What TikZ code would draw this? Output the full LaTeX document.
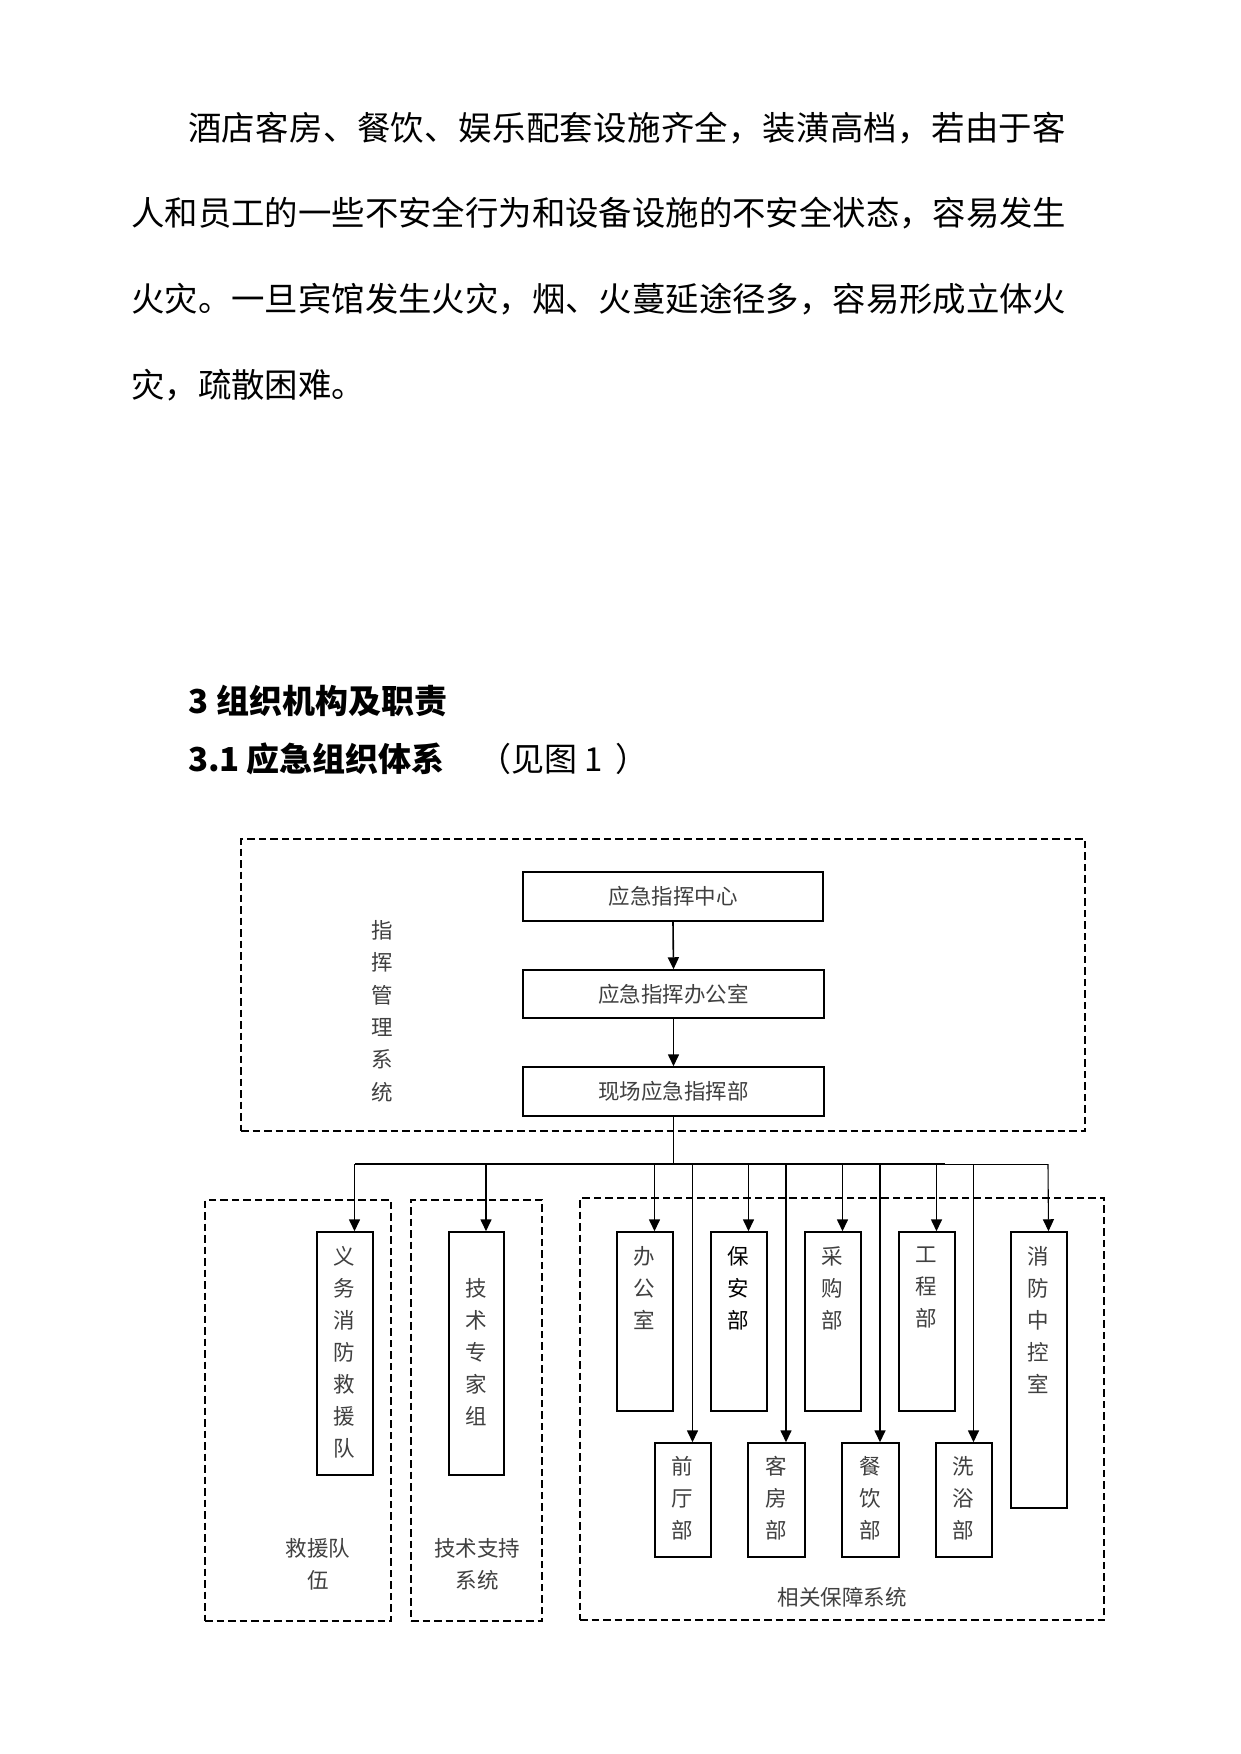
\documentclass[tikz,border=0pt]{standalone}
\usepackage{fontspec}
\setmainfont{Noto Sans CJK SC}
\usetikzlibrary{arrows.meta}
\def\spr#1{\ifx\relax#1\else#1\hfil\expandafter\spr\fi}
\begin{document}
\begin{tikzpicture}[x=1pt,y=-1pt,
  para/.style={anchor=base west, inner sep=0pt, font=\fontsize{33.4}{40}\selectfont},
  head/.style={anchor=base west, inner sep=0pt, font=\fontsize{33}{40}\selectfont\bfseries},
  headr/.style={anchor=base west, inner sep=0pt, font=\fontsize{33}{40}\selectfont},
  box/.style={draw, line width=1.5pt, inner sep=0pt},
  dbox/.style={draw, line width=1.4pt, dash pattern=on 7.5pt off 4pt, inner sep=0pt},
  lab/.style={font=\fontsize{21.5}{32}\selectfont, text=black!75, align=center, inner sep=0pt},
  arr/.style={line width=1.6pt, -{Triangle[length=12pt,width=11pt]}},
  arrthin/.style={line width=1.1pt, -{Triangle[length=12pt,width=11pt]}},
]
\useasboundingbox (0,0) rectangle (1241,1754);
\fill[white] (0,0) rectangle (1241,1754);

% paragraph
\node[para] (p1) at (188,140) {\hbox to 878pt{\spr 酒店客房、餐饮、娱乐配套设施齐全，装潢高档，若由于客\relax\unskip}};
\node[para] (p2) at (131,225.5) {\hbox to 935pt{\spr 人和员工的一些不安全行为和设备设施的不安全状态，容易发生\relax\unskip}};
\node[para] (p3) at (131,311) {\hbox to 935pt{\spr 火灾。一旦宾馆发生火灾，烟、火蔓延途径多，容易形成立体火\relax\unskip}};
\node[para] (p4) at (131,397) {灾，疏散困难。};

% headings
\node[head] (h1a) at (188,713.5) {3};
\node[head] (h1b) at (216,713.5) {组织机构及职责};
\node[head] (h2a) at (188,771.5) {3.1};
\node[head] (h2b) at (246,771.5) {应急组织体系};
\node[headr] (h2c) at (478,771.5) {（见图 1\hspace{13pt}）};

% group frames
\node[dbox, minimum width=844pt, minimum height=292pt] (gtop) at (663,985) {};
\node[dbox, minimum width=186pt, minimum height=421pt] (gres) at (298,1410.5) {};
\node[dbox, minimum width=131pt, minimum height=421pt] (gtec) at (476.5,1410.5) {};
\node[dbox, minimum width=524pt, minimum height=422pt] (gsup) at (842,1409) {};

% group labels
\node[lab, font=\fontsize{21.5}{32.4}\selectfont] (lcmd) at (382,1011) {指\\挥\\管\\理\\系\\统};
\node[lab] (lres) at (318,1564.5) {救援队\\伍};
\node[lab] (ltec) at (477,1564.5) {技术支持\\系统};
\node[lab] (lsup) at (842,1597) {相关保障系统};

% command chain
\node[box, minimum width=300pt, minimum height=49pt, lab] (c1) at (673,896.5) {应急指挥中心};
\node[box, minimum width=301pt, minimum height=48pt, lab] (c2) at (673.5,994) {应急指挥办公室};
\node[box, minimum width=301pt, minimum height=49pt, lab] (c3) at (673.5,1091.5) {现场应急指挥部};
\draw[arr] (c1.south) -- (c2.north);
\draw[arr] (c2.south) -- (c3.north);

% left boxes
\node[box, minimum width=56pt, minimum height=243pt] (vol) at (345,1353.5) {};
\node[box, minimum width=55pt, minimum height=243pt] (exp) at (476.5,1353.5) {};
\node[lab] at (344,1352) {义\\务\\消\\防\\救\\援\\队};
\node[lab] at (476,1352) {技\\术\\专\\家\\组};

% support boxes, top row
\node[box, minimum width=56pt, minimum height=179pt] (off) at (645,1321.5) {};
\node[box, minimum width=56pt, minimum height=179pt] (sec) at (739,1321.5) {};
\node[box, minimum width=56pt, minimum height=179pt] (pur) at (833,1321.5) {};
\node[box, minimum width=56pt, minimum height=179pt] (eng) at (927,1321.5) {};
\node[box, minimum width=56pt, minimum height=276pt] (fcc) at (1039,1370) {};
\node[lab] at (644,1288) {办\\公\\室};
\node[lab, text=black] at (738,1288) {保\\安\\部};
\node[lab] at (832,1288) {采\\购\\部};
\node[lab] at (926,1288) {工\\程\\部};
\node[lab] at (1038,1320) {消\\防\\中\\控\\室};

% support boxes, bottom row
\node[box, minimum width=56pt, minimum height=114pt] (frt) at (683,1500) {};
\node[box, minimum width=57pt, minimum height=114pt] (gst) at (776.5,1500) {};
\node[box, minimum width=57pt, minimum height=114pt] (cat) at (870.5,1500) {};
\node[box, minimum width=56pt, minimum height=114pt] (bat) at (964,1500) {};
\node[lab] at (682,1498) {前\\厅\\部};
\node[lab] at (776,1498) {客\\房\\部};
\node[lab] at (870,1498) {餐\\饮\\部};
\node[lab] at (963,1498) {洗\\浴\\部};

% bus
\coordinate (busL) at (355,1164);
\coordinate (busM) at (945,1164);
\coordinate (busR) at (1048,1164);
\draw[line width=1pt] (c3.south) -- (c3.south |- busL);
\draw[line width=1.6pt] (busL) -- (busM);
\draw[line width=1pt] (busM) -- (busR);

\foreach \b in {vol,exp,off,sec,pur,eng,frt,gst,cat,bat,fcc}{
  \coordinate (t-\b) at ([xshift=9.5pt]\b.north);
}
\foreach \b in {vol,exp,off,sec,pur,eng,frt,gst,cat,bat}{
  \draw[arr] (t-\b |- busL) -- (t-\b);
}
\draw[arrthin] (busR) -- (t-fcc);
\end{tikzpicture}
\end{document}
